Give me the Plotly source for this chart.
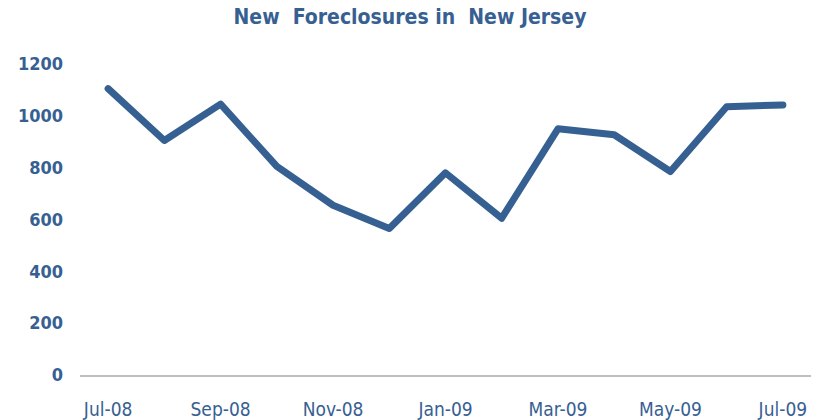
import plotly.graph_objects as go

months = ["Jul-08", "Aug-08", "Sep-08", "Oct-08", "Nov-08", "Dec-08",
          "Jan-09", "Feb-09", "Mar-09", "Apr-09", "May-09", "Jun-09", "Jul-09"]
foreclosures = [1105, 905, 1045, 805, 655, 565, 780, 605, 950, 927, 785, 1035, 1042]
tick_labels = ["Jul-08", "Sep-08", "Nov-08", "Jan-09", "Mar-09", "May-09", "Jul-09"]
y_ticks = [0, 200, 400, 600, 800, 1000, 1200]

BLUE = "#366092"
TEXT = "#376092"
FONT = "DejaVu Sans Condensed, DejaVu Sans, sans-serif"

fig = go.Figure(go.Scatter(
    x=months, y=foreclosures, mode="lines",
    line=dict(color=BLUE, width=7),
    hoverinfo="x+y",
))

fig.update_layout(
    width=820, height=420,
    margin=dict(l=80, r=9, t=64, b=45, autoexpand=False),
    paper_bgcolor="white", plot_bgcolor="white",
    showlegend=False,
    title=dict(
        text="<b>New\u00a0 Foreclosures in\u00a0 New Jersey</b>",
        x=0.5, xanchor="center", y=1 - 17 / 420, yanchor="middle",
        font=dict(family=FONT, size=21, color=TEXT),
    ),
)

fig.update_xaxes(
    type="category", categoryorder="array", categoryarray=months,
    range=[-0.5, 12.5], automargin=False,
    tickmode="array", tickvals=tick_labels, ticktext=tick_labels,
    showgrid=False, zeroline=False,
    showline=True, linecolor="#BFBFBF", linewidth=1.5,
    ticks="", ticklabelstandoff=16,
    tickfont=dict(family=FONT, size=19, color=TEXT),
)

fig.update_yaxes(
    range=[0, 1200], automargin=False,
    tickmode="array", tickvals=y_ticks,
    ticktext=[f"<b>{v}</b>" for v in y_ticks],
    showgrid=False, zeroline=False, showline=False,
    ticks="", ticklabelstandoff=16,
    tickfont=dict(family=FONT, size=18, color=TEXT),
)

fig.write_html(
    "out.html",
    config={"displayModeBar": False},
    post_script=(
        "document.body.style.margin='0';"
        "document.body.style.overflow='hidden';"
        "document.querySelectorAll('.js-line').forEach(function(p){"
        "p.style.strokeLinecap='round';p.style.strokeLinejoin='round';});"
    ),
)
